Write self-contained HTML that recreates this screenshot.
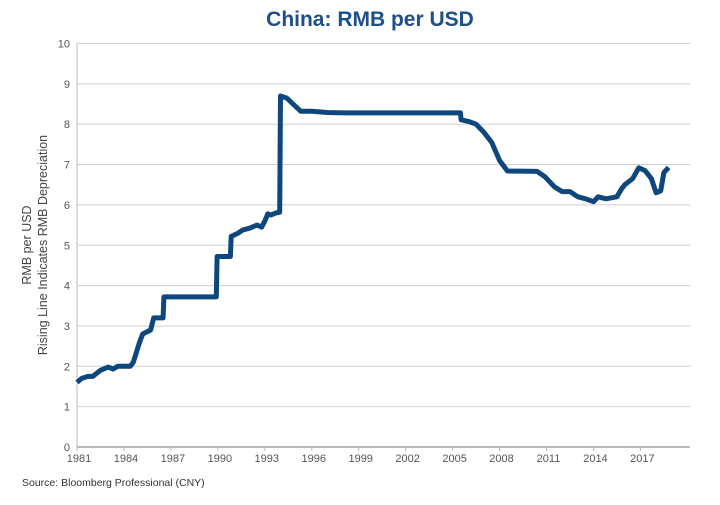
<!DOCTYPE html>
<html><head><meta charset="utf-8"><style>
body{margin:0;background:#fff;width:720px;height:500px;overflow:hidden;font-family:"Liberation Sans",sans-serif}
</style></head><body>
<svg id="chart" width="720" height="500" xmlns="http://www.w3.org/2000/svg">
<text x="370" y="26" text-anchor="middle" font-size="21" font-weight="bold" fill="#1d4f8a">China: RMB per USD</text>
<g id="grid"></g>
<g id="yticks"></g>
<g id="xticks"></g>
<text transform="translate(31,245) rotate(-90)" text-anchor="middle" font-size="12.5" fill="#444">RMB per USD</text>
<text transform="translate(47,245) rotate(-90)" text-anchor="middle" font-size="12.5" fill="#444">Rising Line Indicates RMB Depreciation</text>
<path id="line" fill="none" stroke="#0d477e" stroke-width="5" stroke-linejoin="round"/>
<text x="22" y="486" font-size="10.5" fill="#333">Source:  Bloomberg Professional (CNY)</text>
</svg>
<script>
const years=[1981.0,1981.3,1981.7,1982.0,1982.5,1983.0,1983.3,1983.6,1984.4,1984.6,1985.0,1985.2,1985.7,1985.9,1986.5,1986.55,1989.9,1989.95,1990.8,1990.85,1991.3,1991.6,1992.0,1992.5,1992.8,1993.0,1993.2,1993.4,1993.7,1993.95,1994.0,1994.4,1994.8,1995.3,1996.0,1997.0,1998.0,2005.5,2005.55,2006.0,2006.5,2007.0,2007.5,2008.0,2008.5,2010.4,2010.9,2011.5,2012.0,2012.5,2013.0,2013.5,2014.0,2014.3,2014.8,2015.5,2015.8,2016.0,2016.5,2016.9,2017.3,2017.7,2018.0,2018.3,2018.5,2018.8];
const rates=[1.6,1.7,1.75,1.75,1.9,1.98,1.93,2.0,2.0,2.1,2.6,2.8,2.9,3.2,3.2,3.72,3.72,4.72,4.72,5.22,5.3,5.38,5.42,5.5,5.45,5.6,5.78,5.75,5.8,5.82,8.7,8.65,8.5,8.32,8.32,8.29,8.28,8.28,8.11,8.07,8.0,7.8,7.55,7.1,6.84,6.83,6.7,6.45,6.33,6.33,6.2,6.15,6.08,6.2,6.15,6.2,6.4,6.5,6.65,6.92,6.85,6.65,6.3,6.35,6.8,6.93];
const yTicks=[0,1,2,3,4,5,6,7,8,9,10];
const xTicks=[1981,1984,1987,1990,1993,1996,1999,2002,2005,2008,2011,2014,2017];
const X0=77,X1=690,Y0=447,Y1=43.5;
const x=v=>X0+(v-1981)*15.65;
const y=v=>Y0-(v/10)*(Y0-Y1);
const NS="http://www.w3.org/2000/svg";
const grid=document.getElementById('grid'),yt=document.getElementById('yticks'),xt=document.getElementById('xticks');
yTicks.forEach(t=>{
 const l=document.createElementNS(NS,'line');
 l.setAttribute('x1',X0);l.setAttribute('x2',X1);l.setAttribute('y1',y(t));l.setAttribute('y2',y(t));
 l.setAttribute('stroke',t===0?'#bbb':'#cfcfcf');l.setAttribute('stroke-width',t===0?2:1);
 
 
 grid.appendChild(l);
 const tx=document.createElementNS(NS,'text');
 tx.setAttribute('x',70);tx.setAttribute('y',y(t)+4);tx.setAttribute('text-anchor','end');
 tx.setAttribute('font-size','11');tx.setAttribute('fill','#555');tx.textContent=t;
 
 
 yt.appendChild(tx);
});
const ax=document.createElementNS(NS,'line');
ax.setAttribute('x1',X0);ax.setAttribute('x2',X0);ax.setAttribute('y1',Y1);ax.setAttribute('y2',Y0+4);ax.setAttribute('stroke','#bbb');


grid.appendChild(ax);
xTicks.forEach(t=>{
 const tk=document.createElementNS(NS,'line');
 tk.setAttribute('x1',x(t));tk.setAttribute('x2',x(t));tk.setAttribute('y1',Y0);tk.setAttribute('y2',Y0+4);tk.setAttribute('stroke','#bbb');
 
 
 xt.appendChild(tk);
 const tx=document.createElementNS(NS,'text');
 tx.setAttribute('x',x(t)+2);tx.setAttribute('y',Y0+15);tx.setAttribute('text-anchor','middle');
 tx.setAttribute('font-size','11');tx.setAttribute('fill','#555');tx.textContent=t;
 
 
 xt.appendChild(tx);
});
document.getElementById('line').setAttribute('d',years.map((v,i)=>(i?'L':'M')+x(v).toFixed(1)+','+y(rates[i]).toFixed(1)).join(''));
</script>
</body></html>
